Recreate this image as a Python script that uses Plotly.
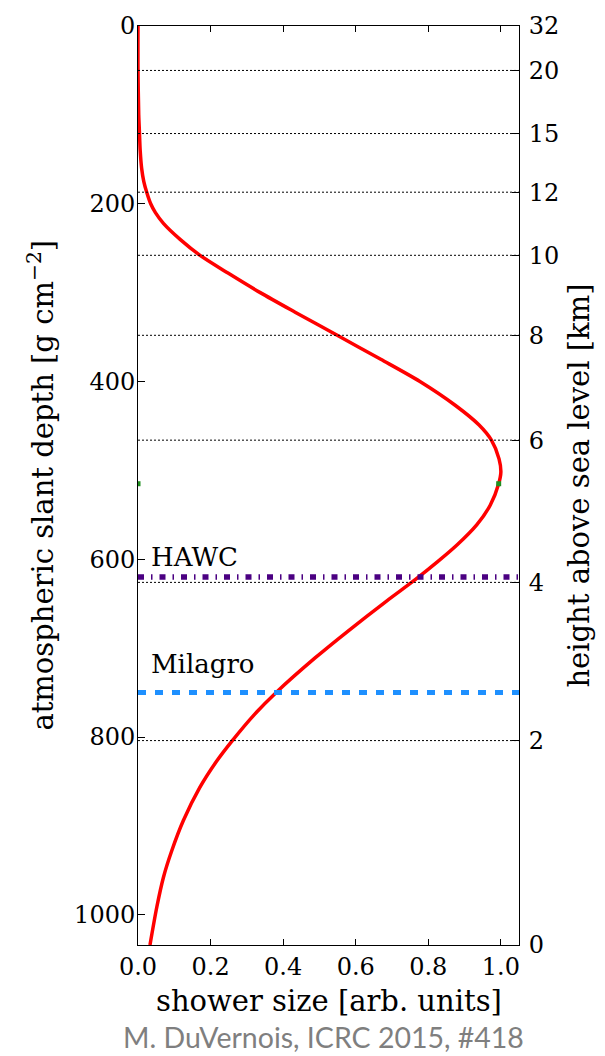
import plotly.graph_objects as go

# Longitudinal air-shower profile: slant depth [g cm^-2] and normalised shower size
depth = [0, 50, 100, 120, 140, 160, 175, 187, 200, 210, 222, 240, 258, 278, 300,
         322, 348, 375, 400, 427, 449, 466, 487, 502, 515, 539, 561, 584, 603, 623,
         647, 681, 711, 749, 775, 804, 827, 857, 894, 928, 958, 991, 1034]
shower_size = [0.0, 0.0, 0.002, 0.004, 0.006, 0.010, 0.016, 0.024, 0.035, 0.048, 0.070,
               0.116, 0.171, 0.248, 0.337, 0.433, 0.549, 0.669, 0.777, 0.875, 0.940,
               0.974, 0.995, 1.000, 0.994, 0.971, 0.934, 0.879, 0.825, 0.764, 0.685,
               0.578, 0.488, 0.383, 0.320, 0.260, 0.217, 0.170, 0.125, 0.093, 0.070,
               0.052, 0.033]

# Depth of shower maximum, marked at both ends
xmax_depth = 515
xmax_mark_size = [0.0, 0.994]

# Altitude scale on the right: height [km] and the matching slant depth
height_km = [32, 20, 15, 12, 10, 8, 6, 4, 2, 0]
height_depth = [0, 50, 121, 187, 258, 348, 466, 626, 804, 1034]

# Detector observation levels [g cm^-2]
hawc_depth = 620
milagro_depth = 750

depth_ticks = [0, 200, 400, 600, 800, 1000]
size_ticks = [0.0, 0.2, 0.4, 0.6, 0.8, 1.0]

DEPTH_MAX = 1034
SIZE_MAX = 1.05
SERIF = "DejaVu Serif"

fig = go.Figure()

# dotted guide lines at each intermediate altitude tick
gx, gy = [], []
for h, d in zip(height_km, height_depth):
    if h in (0, 32):
        continue
    gx += [0, SIZE_MAX, None]
    gy += [d, d, None]
fig.add_trace(go.Scatter(x=gx, y=gy, yaxis="y2", mode="lines",
                         line=dict(color="black", width=1, dash="2px,2px"),
                         hoverinfo="skip"))

# shower profile
fig.add_trace(go.Scatter(x=shower_size, y=depth, mode="lines",
                         line=dict(color="#ff0000", width=3.5, shape="spline", smoothing=0.8)))

# HAWC level
fig.add_trace(go.Scatter(x=[0, SIZE_MAX], y=[hawc_depth, hawc_depth], mode="lines",
                         line=dict(color="#4b0082", width=5.5, dash="6px,7px,1.5px,7px")))

# Milagro level
fig.add_trace(go.Scatter(x=[0, SIZE_MAX], y=[milagro_depth, milagro_depth], mode="lines",
                         line=dict(color="#1e90ff", width=5, dash="8px,9px")))

# shower maximum marks
fig.add_trace(go.Scatter(x=xmax_mark_size, y=[xmax_depth] * len(xmax_mark_size),
                         mode="markers",
                         marker=dict(symbol="square", size=5, color="#1f8f1f", line=dict(width=0))))

axis_common = dict(showgrid=False, zeroline=False, showline=True, linecolor="black",
                   linewidth=1, ticks="inside", tickcolor="black", tickwidth=1,
                   tickfont=dict(family=SERIF, size=24, color="black"))

fig.update_layout(
    width=605, height=1056,
    margin=dict(l=138, r=86, t=22, b=111),
    paper_bgcolor="white", plot_bgcolor="white",
    showlegend=False,
    font=dict(family=SERIF, size=24, color="black"),
    xaxis=dict(range=[0, SIZE_MAX], tickvals=size_ticks,
               ticktext=[f"{v:.1f}" for v in size_ticks],
               ticklen=6, mirror="ticks", **axis_common),
    yaxis=dict(range=[DEPTH_MAX, 0], tickvals=depth_ticks,
               ticktext=[str(v) for v in depth_ticks], ticklen=7,
               ticklabelstandoff=-3, **axis_common),
    yaxis2=dict(range=[DEPTH_MAX, 0], overlaying="y", side="right",
                tickvals=height_depth, ticktext=[str(h) for h in height_km],
                ticklen=7, ticklabelstandoff=4, **axis_common),
)

TITLE_FONT = dict(family=SERIF, size=29, color="black")

# axis titles
fig.add_annotation(text="shower size [arb. units]", xref="paper", yref="paper",
                   x=0.5, y=-0.061, xanchor="center", yanchor="middle", showarrow=False,
                   font=TITLE_FONT)
fig.add_annotation(text="atmospheric slant depth [g cm<sup>\u22122</sup>]", xref="paper", yref="paper",
                   x=-0.257, y=0.5, xanchor="center", yanchor="middle", textangle=-90,
                   showarrow=False, font=TITLE_FONT)
fig.add_annotation(text="height above sea level [km]", xref="paper", yref="paper",
                   x=1.155, y=0.5, xanchor="center", yanchor="middle", textangle=-90,
                   showarrow=False, font=TITLE_FONT)

# detector labels
fig.add_annotation(text="HAWC", x=0.03, y=hawc_depth, xanchor="left", yanchor="middle",
                   yshift=20, showarrow=False, font=dict(family=SERIF, size=26, color="black"))
fig.add_annotation(text="Milagro", x=0.03, y=milagro_depth, xanchor="left", yanchor="middle",
                   yshift=29, showarrow=False, font=dict(family=SERIF, size=26, color="black"))

# credit line
fig.add_annotation(text="M. DuVernois, ICRC 2015, #418", xref="paper", yref="paper",
                   x=0.488, y=-0.1, xanchor="center", yanchor="middle", showarrow=False,
                   font=dict(family="Lato", size=28.5, color="#7f7f7f"))

fig.write_html("out.html")
